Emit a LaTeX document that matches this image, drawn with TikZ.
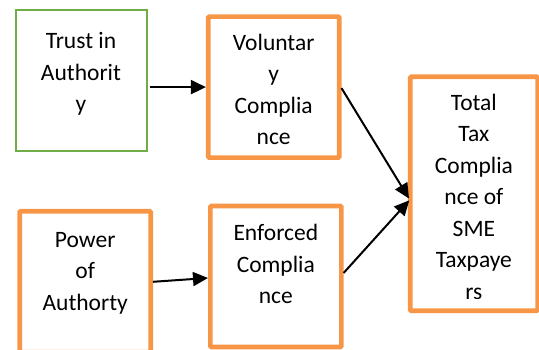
\documentclass[tikz,border=0pt]{standalone}
\usepackage{fontspec}
\setmainfont{Carlito}
\usepackage{xcolor}
\usepackage{tikz}
\usetikzlibrary{arrows.meta, positioning}
\definecolor{boxorange}{HTML}{F79646}
\definecolor{boxgreen}{HTML}{70AD47}
\tikzset{
	factor/.style={draw=boxorange, line width=4.6pt, rectangle, rounded corners=1pt, minimum width=131pt, minimum height=141pt},
	trustbox/.style={factor, draw=boxgreen, line width=2pt, rounded corners=0pt},
	boxtext/.style={align=center, inner sep=0pt, font=\fontsize{23.5}{31.5}\selectfont},
	link/.style={line width=2pt, -{Triangle[length=15pt, width=14pt]}}
}
\begin{document}
\begin{tikzpicture}[x=1pt, y=1pt]
	\useasboundingbox (0,0) rectangle (539,350);
	
	% Trust
	\node[trustbox] (trust) at (81,269) {};
	\node[boxtext, below=17pt of trust.north] (trusttext) {\strut Trust in\\Authorit\\y};
	
	% Voluntary compliance
	\node[factor] (vol) at (273.7,262.9) {};
	\node[boxtext, below=13.5pt of vol.north] (voltext) {\strut Voluntar\\y\\Complia\\nce};
	
	% Power
	\node[factor] (power) at (85.2,68.2) {};
	\node[boxtext, below=16pt of power.north] (powertext) {\strut Power\\of\\Authorty};
	
	% Enforced compliance
	\node[factor] (enf) at (275.8,73.5) {};
	\node[boxtext, below=15pt of enf.north] (enftext) {\strut Enforced\\Complia\\nce};
	
	% Total
	\node[factor, minimum width=127.3pt, minimum height=234pt] (total) at (473.9,156.2) {};
	\begin{scope}
		\clip ([shift={(2.3pt,-2.3pt)}]total.north west) rectangle ([shift={(-2.3pt,14.3pt)}]total.south east);
		\node[boxtext, below=13.5pt of total.north] (totaltext) {\strut Total\\Tax\\Complia\\nce of\\SME\\Taxpaye\\rs};
	\end{scope}
	
	% Arrows
	\draw[link, shorten <=2pt] (trust.east |- vol.west) -- (vol.west);
	\draw[link] (power.east) -- ([yshift=-1.5pt]enf.west);
	\draw[link, shorten >=-2pt] ([yshift=-1pt]vol.east) -- ([yshift=-3pt]total.west);
	\draw[link, shorten >=-2pt] ([yshift=3.5pt]enf.east) -- ([yshift=-8pt]total.west);
\end{tikzpicture}
\end{document}
